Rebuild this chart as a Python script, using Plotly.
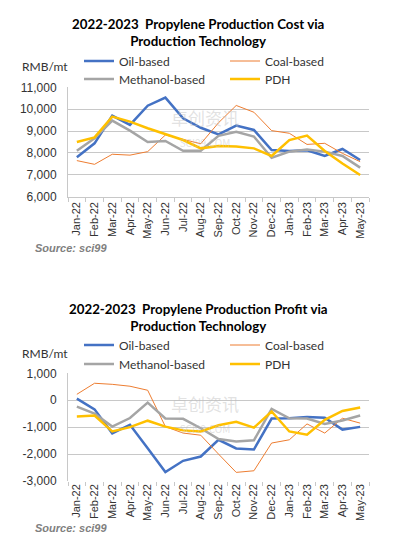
import plotly.graph_objects as go

months = ["Jan-22", "Feb-22", "Mar-22", "Apr-22", "May-22", "Jun-22", "Jul-22", "Aug-22",
          "Sep-22", "Oct-22", "Nov-22", "Dec-22", "Jan-23", "Feb-23", "Mar-23", "Apr-23", "May-23"]

# Production cost, RMB/mt
cost_oil = [7800, 8440, 9700, 9280, 10160, 10530, 9580, 9150, 8850, 9250, 9050, 8130, 8090, 8120, 7860, 8180, 7680]
cost_coal = [7650, 7480, 7940, 7900, 8060, 8820, 8620, 8420, 9380, 10170, 9860, 9020, 8900, 8390, 8440, 7980, 7600]
cost_methanol = [8100, 8670, 9480, 9020, 8500, 8550, 8100, 8100, 8780, 8970, 8750, 7780, 8060, 8160, 8060, 7860, 7330]
cost_pdh = [8500, 8710, 9660, 9430, 9130, 8850, 8590, 8210, 8320, 8290, 8210, 7860, 8590, 8790, 8090, 7520, 6990]

# Production profit, RMB/mt
profit_oil = [60, -340, -1230, -910, -1780, -2670, -2250, -2090, -1470, -1790, -1830, -680, -670, -620, -650, -1090, -990]
profit_coal = [220, 630, 590, 520, 370, -980, -1220, -1300, -2000, -2680, -2620, -1590, -1470, -880, -1220, -670, -850]
profit_methanol = [-240, -500, -980, -660, -90, -680, -690, -1040, -1440, -1530, -1490, -320, -670, -680, -880, -750, -570]
profit_pdh = [-600, -570, -1160, -1000, -760, -980, -1120, -1160, -930, -800, -1020, -420, -1160, -1280, -730, -400, -270]

series_names = ["Oil-based", "Coal-based", "Methanol-based", "PDH"]
colors = ["#4472C4", "#ED7D31", "#A5A5A5", "#FFC000"]
widths = [2.5, 1, 2.5, 2.5]

cost_ticks = [6000, 7000, 8000, 9000, 10000, 11000]
cost_ticktext = ["6,000", "7,000", "8,000", "9,000", "10,000", "11,000"]
profit_ticks = [-3000, -2000, -1000, 0, 1000]
profit_ticktext = ["-3,000", "-2,000", "-1,000", "0", "1,000"]

W, H = 397, 550
def px(x):
    return x / W
def py(y):
    return 1 - y / H

fig = go.Figure()

cost_data = [cost_oil, cost_coal, cost_methanol, cost_pdh]
profit_data = [profit_oil, profit_coal, profit_methanol, profit_pdh]

for i, (name, vals) in enumerate(zip(series_names, cost_data)):
    fig.add_trace(go.Scatter(x=months, y=vals, mode="lines", name=name,
                             line=dict(color=colors[i], width=widths[i]),
                             xaxis="x", yaxis="y",
                             legend="legend" if i == 0 else f"legend{i+1}"))
for i, (name, vals) in enumerate(zip(series_names, profit_data)):
    fig.add_trace(go.Scatter(x=months, y=vals, mode="lines", name=name,
                             line=dict(color=colors[i], width=widths[i]),
                             xaxis="x2", yaxis="y2",
                             legend=f"legend{i+5}"))

tickfont = dict(family="Liberation Sans", size=11, color="#333333")
xdom = [px(68), px(369)]
grid = "#C8C8C8"

common_x = dict(type="category", range=[-0.5, 16.5], tickangle=-90, tickfont=tickfont,
                showgrid=False, showline=True, linecolor=grid, linewidth=1,
                ticks="outside", tickson="boundaries", ticklen=4, tickcolor=grid,
                domain=xdom, fixedrange=True, automargin=False)
fig.update_layout(
    width=W, height=H,
    margin=dict(l=0, r=0, t=0, b=0),
    paper_bgcolor="white", plot_bgcolor="white",
    xaxis=dict(common_x, anchor="y"),
    xaxis2=dict(common_x, anchor="y2", showline=False),
    yaxis=dict(domain=[py(196.7), py(87.3)], range=[6000, 11000], tickvals=cost_ticks,
               ticktext=cost_ticktext, showgrid=True, gridcolor=grid, gridwidth=1,
               showline=True, linecolor=grid, zeroline=False, tickfont=dict(tickfont, size=12),
               ticklabelstandoff=8, anchor="x", automargin=False),
    yaxis2=dict(domain=[py(481), py(373.3)], range=[-3000, 1000], tickvals=profit_ticks,
                ticktext=profit_ticktext, showgrid=True, gridcolor=grid, gridwidth=1,
                showline=True, linecolor=grid, zeroline=False, tickfont=dict(tickfont, size=12),
                ticklabelstandoff=8, anchor="x2", automargin=False),
    showlegend=True,
)

legend_font = dict(family="Lato", size=12, color="#333333")
# legend positions: (text-left x, row center y) in pixels
leg_pos = [(120, 61), (266, 61), (120, 79), (266, 79),
           (120, 345), (266, 345), (120, 364), (266, 364)]
for k, (lx, ly) in enumerate(leg_pos):
    key = "legend" if k == 0 else f"legend{k+1}"
    fig.update_layout(**{key: dict(x=px(lx - 41), y=py(ly), xanchor="left", yanchor="middle",
                                   bgcolor="rgba(0,0,0,0)", borderwidth=0, font=legend_font,
                                   itemwidth=30)})

title_font = dict(family="Lato", size=13.3, color="#000000")
ann = []
ann.append(dict(text="<b>2022-2023  Propylene Production Cost via<br>Production Technology</b>",
                x=px(198), y=py(32), xref="paper", yref="paper", showarrow=False,
                font=title_font, xanchor="center", yanchor="middle"))
ann.append(dict(text="<b>2022-2023  Propylene Production Profit via<br>Production Technology</b>",
                x=px(198), y=py(317), xref="paper", yref="paper", showarrow=False,
                font=title_font, xanchor="center", yanchor="middle"))
for yy in (66, 353):
    ann.append(dict(text="RMB/mt", x=px(20), y=py(yy), xref="paper", yref="paper",
                    showarrow=False, xanchor="left", yanchor="middle",
                    font=dict(family="Lato", size=12, color="#333333")))
for yy in (248, 528):
    ann.append(dict(text="<b><i>Source: sci99</i></b>", x=px(33), y=py(yy), xref="paper", yref="paper",
                    showarrow=False, xanchor="left", yanchor="middle",
                    font=dict(family="Liberation Sans", size=11, color="#808080")))
# faint watermark
for yy in (128, 413):
    ann.append(dict(text="卓创资讯<br><span style='font-size:10px'>SCI99.COM</span>",
                    x=px(205), y=py(yy), xref="paper", yref="paper",
                    showarrow=False, xanchor="center", yanchor="middle",
                    font=dict(family="Noto Sans CJK SC", size=17, color="rgba(190,190,190,0.45)")))
fig.update_layout(annotations=ann)

fig.write_html("out.html", config={"staticPlot": True},
               post_script="document.body.style.margin='0';")
